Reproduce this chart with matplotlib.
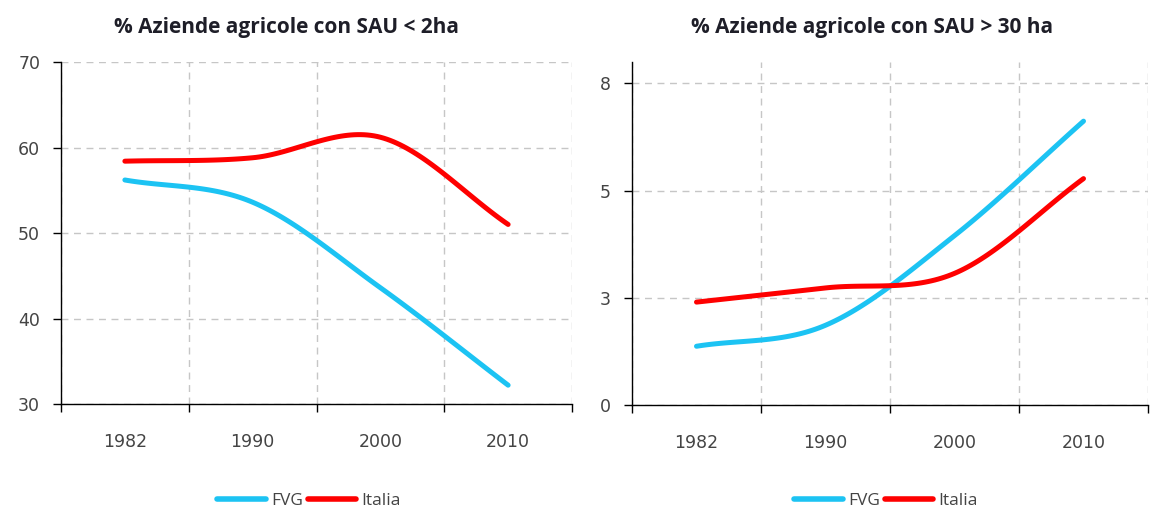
import matplotlib
matplotlib.use('Agg')
import matplotlib.pyplot as plt
import numpy as np
from matplotlib.lines import Line2D

# census years and shares of farms by utilised agricultural area (SAU)
years = ['1982', '1990', '2000', '2010']
fvg_small = [56.2, 53.6, 43.6, 32.2]       # % farms with SAU < 2 ha
italia_small = [58.4, 58.8, 61.2, 51.0]
fvg_large = [1.37, 1.86, 3.95, 6.62]       # % farms with SAU > 30 ha
italia_large = [2.4, 2.73, 3.07, 5.28]

left_ticks = [30, 40, 50, 60, 70]
right_ticks = [0, 2.5, 5, 7.5]
right_labels = ['0', '3', '5', '8']

CYAN = '#1cc3f3'
RED = '#fe0000'
GRID = '#c6c6c6'
TXT = '#444444'


def smooth(xs, ys, n=40):
    # spreadsheet-style smoothed line (Catmull-Rom through the points)
    xs = np.asarray(xs, float)
    ys = np.asarray(ys, float)
    m = np.zeros_like(ys)
    m[1:-1] = (ys[2:] - ys[:-2]) / 2
    m[0] = ys[1] - ys[0]
    m[-1] = ys[-1] - ys[-2]
    px, py = [], []
    for i in range(len(ys) - 1):
        t = np.linspace(0, 1, n)
        h00 = 2 * t**3 - 3 * t**2 + 1
        h10 = t**3 - 2 * t**2 + t
        h01 = -2 * t**3 + 3 * t**2
        h11 = t**3 - t**2
        px.append(xs[i] + t * (xs[i + 1] - xs[i]))
        py.append(h00 * ys[i] + h10 * m[i] + h01 * ys[i + 1] + h11 * m[i + 1])
    return np.concatenate(px), np.concatenate(py)


def style_axes(ax, ylim, yticks, ylabels=None):
    ax.set_xlim(0, 4)
    ax.set_ylim(*ylim)
    ax.set_xticks([0, 1, 2, 3, 4])
    ax.set_xticks([0.5, 1.5, 2.5, 3.5], minor=True)
    ax.set_xticklabels(years, minor=True)
    ax.tick_params(axis='x', which='major', length=6, width=1, labelbottom=False)
    ax.tick_params(axis='x', which='minor', length=0, pad=21, labelsize=12.5, labelcolor=TXT)
    ax.set_yticks(yticks)
    if ylabels:
        ax.set_yticklabels(ylabels)
    ax.tick_params(axis='y', length=6, width=1, pad=9, labelsize=12.5, labelcolor=TXT)
    ax.grid(True, which='major', color=GRID, linestyle=(0, (5, 4)), linewidth=1)
    for s in ['top', 'right']:
        ax.spines[s].set_visible(False)
    for s in ['left', 'bottom']:
        ax.spines[s].set_linewidth(1)
        ax.spines[s].set_color('black')
    ax.set_axisbelow(True)


fig = plt.figure(figsize=(11.52, 5.11), dpi=100)
ax1 = fig.add_axes([61 / 1152, 1 - 404 / 511, 511 / 1152, 342 / 511])
ax2 = fig.add_axes([632 / 1152, 1 - 405 / 511, 516 / 1152, 343 / 511])

xpos = [0.5, 1.5, 2.5, 3.5]
for ax, f, it in [(ax1, fvg_small, italia_small), (ax2, fvg_large, italia_large)]:
    x, y = smooth(xpos, f)
    ax.plot(x, y, color=CYAN, lw=3.6, solid_capstyle='round')
    x, y = smooth(xpos, it)
    ax.plot(x, y, color=RED, lw=3.6, solid_capstyle='round')

style_axes(ax1, (30, 70), left_ticks)
style_axes(ax2, (0, 8), right_ticks, right_labels)

fig.text(287 / 1152, 1 - 28 / 511, '% Aziende agricole con SAU < 2ha', ha='center', va='center',
         fontsize=15, fontweight='bold', color='#1e1e28', family='Open Sans')
fig.text(872 / 1152, 1 - 28 / 511, '% Aziende agricole con SAU > 30 ha', ha='center', va='center',
         fontsize=15, fontweight='bold', color='#1e1e28', family='Open Sans')

handles = [Line2D([], [], color=CYAN, lw=4, solid_capstyle='round'),
           Line2D([], [], color=RED, lw=4, solid_capstyle='round')]
for cx in [309 / 1152, 886 / 1152]:
    fig.legend(handles, ['FVG', 'Italia'], loc='center', bbox_to_anchor=(cx, 1 - 501 / 511), ncol=2,
               frameon=False, handlelength=2.8, handletextpad=0.3, columnspacing=0.3,
               prop={'family': 'Open Sans', 'size': 12.5}, labelcolor=TXT)

fig.savefig('out.png', dpi=100)
